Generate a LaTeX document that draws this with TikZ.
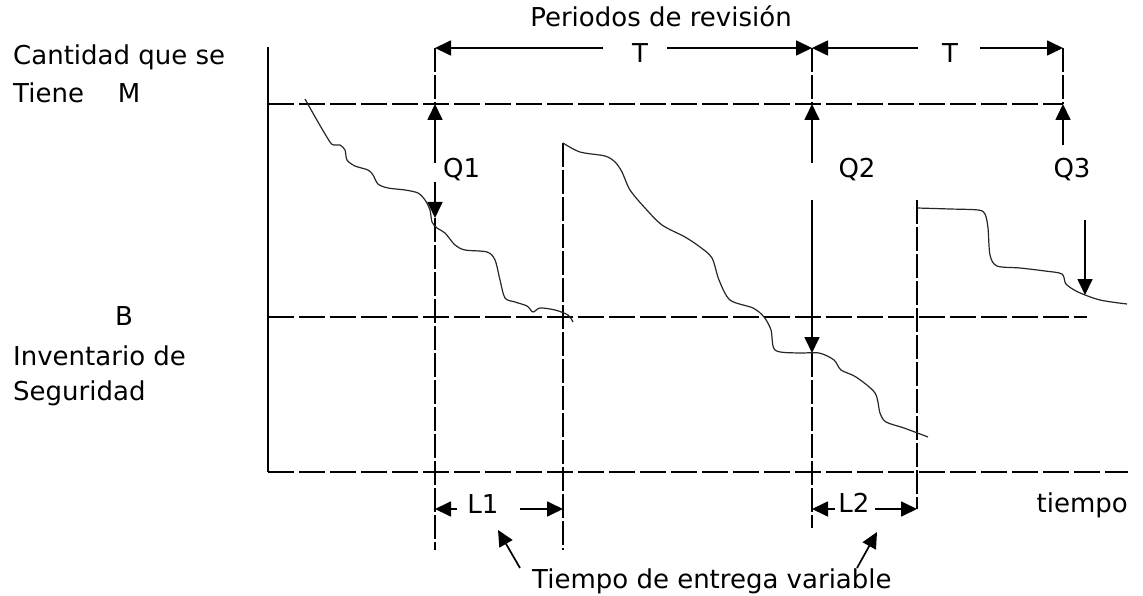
\documentclass[tikz,border=0pt]{standalone}
\usepackage{fontspec}
\setmainfont{DejaVu Sans}
\usetikzlibrary{arrows.meta}
\newcommand{\drawthick}{\draw[line width=1.8pt]}
\newcommand{\drawdashed}{\draw[line width=1.7pt, dash pattern=on 26pt off 5pt]}
\newcommand{\drawvdash}{\draw[line width=1.5pt, dash pattern=on 24pt off 3pt]}
\newcommand{\drawarrow}{\draw[line width=1.7pt, -{Triangle[length=16pt,width=15pt]}]}
\newcommand{\drawcurve}{\draw[line width=1.2pt, black!85] plot[smooth, tension=0.5] coordinates}
\newcommand{\labelnode}[4]{\node[anchor=#1] (#2) at (#3) {#4};}

\begin{document}
\begin{tikzpicture}[x=1pt, y=-1pt, every node/.style={inner sep=0pt, font=\fontsize{26}{30}\selectfont}]
\useasboundingbox (0,0) rectangle (1143,596);
% axes and levels M, B
\drawthick (268,47)--(268,472);
\drawdashed (268,472)--(1128,472);
\drawdashed (268,104)--(1063,104);
\drawdashed (268,317)--(1087,317);
% review periods
\drawvdash (435,48)--(435,104);\drawvdash (435,218)--(435,550);
\drawvdash (563,143)--(563,550);
\drawvdash (812,48)--(812,104);\drawvdash (812,353)--(812,528);
\drawvdash (917,200)--(917,509);
\drawvdash (1063,48)--(1063,104);
\drawarrow (603,48)--(435,48);\drawarrow (667,48)--(812,48);
\drawarrow (918,48)--(812,48);\drawarrow (980,48)--(1063,48);
% orders Q
\drawarrow (435,163)--(435,104);\drawarrow (435,182)--(435,218);
\drawarrow (812,163)--(812,104);\drawarrow (812,200)--(812,353);
\drawarrow (1063,145)--(1063,104);\drawarrow (1085,220)--(1085,295);
% lead times
\drawarrow (457,509)--(435,509);\drawarrow (520,509)--(563,509);
\drawarrow (835,509)--(812,509);\drawarrow (875,509)--(917,509);
\drawarrow (520,568)--(498,530);\drawarrow (857,568)--(877,532);
% stock curves
\drawcurve{(305,99) (318,122) (330,142) (334,145) (340,145) (345,150) (347,160) (355,166) (368,170) (373,175) (378,184) (388,188) (405,190) (418,193) (425,200) (430,210) (432,222) (437,228) (445,233) (455,245) (465,250) (487,252) (495,260) (500,280) (505,298) (515,302) (527,306) (533,312) (540,308) (555,310) (568,315) (573,322)};
\drawcurve{(563,143) (580,152) (605,156) (615,162) (622,172) (630,190) (645,208) (662,225) (685,237) (700,247) (712,258) (719,280) (730,300) (753,308) (764,317) (771,330) (775,350) (797,353) (819,353) (834,360) (841,370) (856,377) (875,393) (880,413) (886,422) (904,428) (928,437)};
\drawcurve{(917,208) (950,209) (978,210) (985,214) (988,228) (990,255) (997,266) (1020,268) (1045,271) (1062,274) (1066,284) (1078,292) (1100,300) (1127,304)};
% labels
\labelnode{base west}{cantidad}{13,65}{Cantidad que se}
\labelnode{base west}{tiene}{13,103}{Tiene\hspace{34pt}M}
\labelnode{base}{b}{124,325}{B}
\labelnode{base west}{inventario}{13,365}{Inventario de}
\labelnode{base west}{seguridad}{13,400}{Seguridad}
\labelnode{base}{periodos}{661,27}{Periodos de revisión}
\labelnode{base}{t1}{640,63}{T}
\labelnode{base}{t2}{950,63}{T}
\labelnode{base west}{q1}{443,178}{Q1}
\labelnode{base}{q2}{857,178}{Q2}
\labelnode{base}{q3}{1072,178}{Q3}
\labelnode{base}{l1}{483,513}{L1}
\labelnode{base}{l2}{854,512}{L2}
\labelnode{base east}{tiempo}{1128,512}{tiempo}
\labelnode{base west}{entrega}{532,588}{Tiempo de entrega variable}
\end{tikzpicture}
\end{document}
